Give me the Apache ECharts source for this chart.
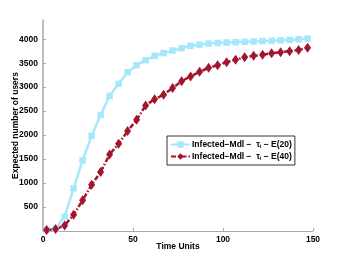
<!DOCTYPE html>
<html><head><meta charset="utf-8">
<script src="https://cdn.jsdelivr.net/npm/echarts@6/dist/echarts.min.js"></script>
<style>html,body{margin:0;padding:0;background:#fff}#c{width:346px;height:260px}</style>
</head><body><div id="c"></div>
<script>
var timeUnits = [2,7,12,17,22,27,32,37,42,47,52,57,62,67,72,77,82,87,92,97,102,107,112,117,122,127,132,137,142,147];
var infected20 = [20,50,300,890,1470,1985,2420,2818,3070,3310,3458,3562,3652,3708,3762,3812,3860,3887,3908,3922,3930,3938,3945,3952,3960,3968,3976,3985,3998,4012];
var infected40 = [20,40,117,340,640,965,1230,1597,1820,2083,2318,2617,2750,2840,2980,3125,3222,3320,3402,3458,3520,3570,3623,3652,3673,3708,3729,3750,3777,3819];
var seriesNames = ['Infected\u2212Mdl \u2212  {t|\u03c4}{s|i} \u2212 E(20)', 'Infected\u2212Mdl \u2212  {t|\u03c4}{s|i} \u2212 E(40)'];
var xTitle = 'Time Units';
var yTitle = 'Expected number of users';

function pairs(xs, ys){ return xs.map(function(x,i){ return [x, ys[i]]; }); }

var chart = echarts.init(document.getElementById('c'), null, {renderer:'canvas'});
var font = 'Liberation Sans, Arial, sans-serif';
chart.setOption({
  animation:false,
  backgroundColor:'#fff',
  grid:{left:43,right:33,top:20,bottom:29,containLabel:false,outerBoundsMode:'none'},
  xAxis:{type:'value',min:0,max:150,interval:50,
    name:xTitle,nameLocation:'middle',nameGap:11,nameMoveOverlap:false,
    nameTextStyle:{fontFamily:font,fontSize:8.5,fontWeight:'bold',color:'#000'},
    axisLine:{lineStyle:{color:'#a8a8a8',width:1}},
    axisTick:{inside:true,length:3,lineStyle:{color:'#a8a8a8'}},
    axisLabel:{fontFamily:font,fontSize:8.5,fontWeight:'bold',color:'#000',margin:4,formatter:function(v){return String(v);}},
    splitLine:{show:false}},
  yAxis:{type:'value',min:0,max:4400,interval:500,
    name:yTitle,nameLocation:'middle',nameGap:23,nameMoveOverlap:false,
    nameTextStyle:{fontFamily:font,fontSize:8.5,fontWeight:'bold',color:'#000'},
    axisLine:{show:true,lineStyle:{color:'#a8a8a8',width:1.5}},
    axisTick:{show:true,inside:true,length:3,lineStyle:{color:'#a8a8a8'}},
    axisLabel:{fontFamily:font,fontSize:8.5,fontWeight:'bold',color:'#000',margin:5,showMinLabel:false,showMaxLabel:false,formatter:function(v){return String(v);}},
    splitLine:{show:false}},
  legend:{left:167,top:136,orient:'vertical',itemGap:3,
    padding:[4,3,4,3],
    borderColor:'#000',borderWidth:0.8,backgroundColor:'#fff',
    itemWidth:19,itemHeight:8,
    textStyle:{fontFamily:font,fontSize:8.5,fontWeight:'bold',color:'#000',padding:[0,0,0,-3],
      rich:{t:{fontFamily:font,fontSize:8.5,color:'#000'},s:{fontFamily:font,fontSize:5,color:'#000',verticalAlign:'bottom',padding:[4,0,0,0]}}}},
  series:[
    {name:seriesNames[0],type:'line',data:pairs(timeUnits,infected20),
      symbol:'rect',symbolSize:6.5,
      lineStyle:{color:'#a6e8fb',width:2.5},
      itemStyle:{color:'#a6e8fb'}},
    {name:seriesNames[1],type:'line',data:pairs(timeUnits,infected40),
      symbol:'diamond',symbolSize:[7,10],
      lineStyle:{color:'#a3152d',width:2.5,type:[5,2,1.5,2]},
      itemStyle:{color:'#a3152d'}}
  ]
});
</script></body></html>
